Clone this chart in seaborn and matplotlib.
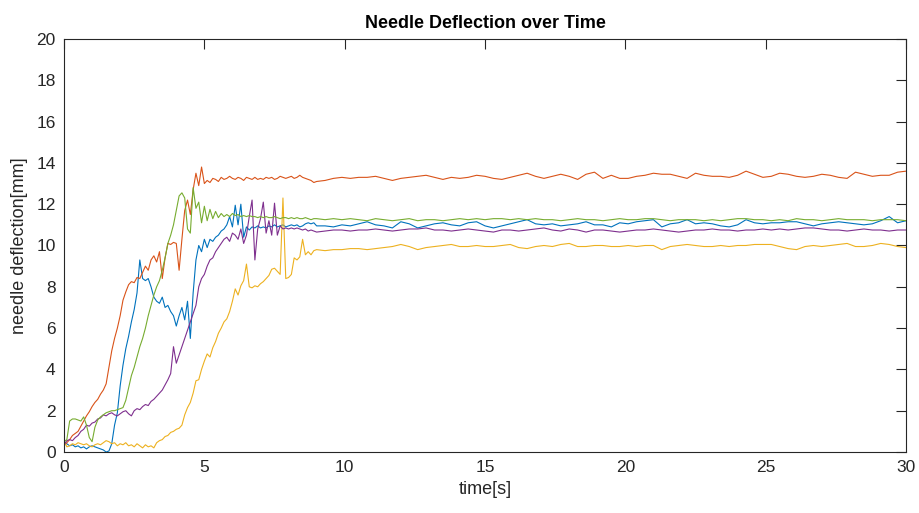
import numpy as np
import pandas as pd
import matplotlib
matplotlib.use("Agg")
import matplotlib.pyplot as plt
import seaborn as sns

# sampling grid: 0.1 s during insertion, 0.3 s once the needle has settled
t_fast = np.round(np.arange(0.0, 9.01, 0.1), 1)
t_slow = np.round(np.arange(9.3, 30.01, 0.3), 1)
time_s = np.concatenate([t_fast, t_slow])

# needle deflection [mm] for the five trials
blue_fast = [0.45, 0.40, 0.30, 0.35, 0.25, 0.30, 0.20, 0.25, 0.15, 0.25,
             0.30, 0.25, 0.20, 0.15, 0.10, 0.00, 0.05, 0.40, 1.30, 1.90,
             3.20, 4.20, 5.00, 5.60, 6.30, 6.90, 7.70, 9.30, 8.40, 8.30,
             8.40, 8.00, 7.50, 7.30, 7.20, 7.50, 7.00, 7.10, 6.80, 6.60,
             6.10, 6.60, 7.00, 6.40, 7.30, 5.50, 7.70, 9.30, 10.00, 9.70,
             10.30, 9.90, 10.30, 10.20, 10.40, 10.50, 10.70, 10.80, 11.00, 11.40,
             10.90, 11.95, 11.00, 12.00, 10.40, 10.90, 10.75, 10.90, 10.85, 10.95,
             10.85, 10.90, 10.85, 10.95, 10.90, 11.00, 10.90, 10.95, 11.00, 10.90,
             10.95, 11.00, 10.95, 11.00, 10.90, 10.95, 11.05, 11.10, 11.05, 11.10,
             10.95]
blue_slow = [10.95, 10.90, 11.00, 10.95, 11.05, 11.15, 11.00, 10.95, 10.85, 11.15,
             11.05, 10.85, 10.95, 11.05, 11.10, 11.00, 10.95, 11.10, 11.15, 10.95,
             10.85, 10.95, 11.05, 11.15, 11.25, 11.05, 11.00, 11.05, 10.95, 11.00,
             11.05, 11.15, 11.00, 11.00, 10.90, 11.10, 11.05, 11.15, 11.20, 11.25,
             10.90, 11.05, 11.10, 11.25, 11.05, 11.10, 11.05, 10.95, 10.90, 11.00,
             11.25, 11.10, 11.05, 11.10, 11.10, 11.15, 11.15, 11.05, 10.95, 11.05,
             11.10, 11.15, 11.10, 11.05, 11.00, 11.05, 11.20, 11.40, 11.10, 11.20]

orange_fast = [0.30, 0.45, 0.60, 0.80, 0.90, 1.00, 1.25, 1.50, 1.75, 1.95,
               2.20, 2.40, 2.55, 2.80, 3.00, 3.30, 4.10, 4.90, 5.50, 6.00,
               6.60, 7.35, 7.75, 8.10, 8.25, 8.20, 8.45, 8.40, 8.70, 9.00,
               8.80, 9.30, 9.50, 9.20, 9.70, 8.40, 9.40, 10.10, 10.05, 10.15,
               10.10, 8.80, 10.30, 11.70, 12.20, 11.50, 12.70, 13.50, 12.90, 13.80,
               13.00, 13.15, 13.05, 13.25, 13.20, 13.10, 13.30, 13.20, 13.25, 13.35,
               13.25, 13.20, 13.30, 13.25, 13.15, 13.30, 13.25, 13.20, 13.30, 13.20,
               13.25, 13.20, 13.30, 13.25, 13.30, 13.20, 13.25, 13.35, 13.30, 13.25,
               13.30, 13.35, 13.25, 13.30, 13.40, 13.30, 13.25, 13.20, 13.15, 13.05,
               13.10]
orange_slow = [13.15, 13.25, 13.30, 13.25, 13.30, 13.30, 13.35, 13.25, 13.15, 13.25,
               13.30, 13.35, 13.40, 13.30, 13.20, 13.30, 13.25, 13.30, 13.40, 13.35,
               13.25, 13.20, 13.30, 13.40, 13.50, 13.35, 13.25, 13.35, 13.45, 13.35,
               13.20, 13.45, 13.55, 13.25, 13.40, 13.25, 13.25, 13.35, 13.40, 13.50,
               13.45, 13.45, 13.35, 13.25, 13.50, 13.40, 13.35, 13.35, 13.30, 13.40,
               13.60, 13.45, 13.30, 13.35, 13.50, 13.45, 13.35, 13.30, 13.35, 13.45,
               13.40, 13.30, 13.25, 13.55, 13.45, 13.35, 13.40, 13.40, 13.55, 13.60]

yellow_fast = [0.55, 0.25, 0.30, 0.40, 0.35, 0.45, 0.40, 0.35, 0.40, 0.30,
               0.25, 0.35, 0.40, 0.35, 0.45, 0.55, 0.50, 0.40, 0.45, 0.30,
               0.40, 0.35, 0.45, 0.30, 0.35, 0.25, 0.40, 0.30, 0.20, 0.35,
               0.25, 0.30, 0.20, 0.45, 0.55, 0.60, 0.75, 0.80, 0.95, 1.00,
               1.10, 1.15, 1.30, 1.80, 2.15, 2.40, 2.85, 3.45, 3.50, 4.00,
               4.40, 4.75, 4.60, 5.05, 5.35, 5.75, 6.00, 6.30, 6.45, 6.80,
               7.30, 7.90, 7.60, 8.05, 8.30, 9.10, 8.00, 7.95, 8.05, 8.00,
               8.15, 8.25, 8.40, 8.55, 8.85, 8.90, 8.75, 8.60, 12.30, 8.40,
               8.45, 8.60, 9.40, 9.30, 9.45, 10.30, 9.55, 9.70, 9.55, 9.75,
               9.80]
yellow_slow = [9.75, 9.80, 9.80, 9.85, 9.85, 9.80, 9.85, 9.90, 9.95, 10.05,
               9.95, 9.80, 9.90, 9.95, 10.00, 10.05, 9.95, 9.95, 10.00, 9.95,
               9.95, 10.00, 10.05, 9.90, 9.85, 9.95, 10.00, 9.95, 10.05, 10.10,
               9.95, 9.95, 10.00, 10.00, 9.95, 9.95, 10.00, 9.95, 10.00, 10.00,
               9.80, 9.95, 10.00, 10.05, 10.00, 9.95, 9.95, 10.00, 9.95, 10.00,
               10.00, 10.05, 10.05, 10.05, 9.95, 9.85, 9.80, 9.95, 10.00, 9.95,
               10.00, 10.05, 10.10, 9.95, 9.95, 10.00, 10.10, 10.05, 9.95, 9.90]

purple_fast = [0.35, 0.55, 0.60, 0.55, 0.70, 0.80, 1.00, 1.10, 1.30, 1.25,
               1.40, 1.45, 1.60, 1.65, 1.80, 1.75, 1.85, 1.90, 1.80, 1.75,
               1.85, 1.95, 2.00, 1.85, 1.75, 2.00, 2.10, 2.05, 2.20, 2.30,
               2.25, 2.45, 2.55, 2.70, 2.85, 3.00, 3.25, 3.50, 3.80, 5.10,
               4.30, 4.70, 5.10, 5.50, 5.90, 6.30, 6.70, 7.10, 8.00, 8.40,
               8.60, 9.00, 9.30, 9.40, 9.70, 9.90, 10.10, 10.30, 10.40, 10.20,
               10.60, 10.50, 10.30, 10.80, 10.10, 10.50, 11.40, 12.20, 9.30, 10.80,
               11.30, 12.10, 10.60, 11.20, 10.50, 12.05, 10.50, 10.95, 10.80, 10.85,
               10.80, 10.85, 10.80, 10.85, 10.80, 10.75, 10.80, 10.70, 10.75, 10.70,
               10.65]
purple_slow = [10.70, 10.75, 10.75, 10.70, 10.75, 10.75, 10.80, 10.75, 10.70, 10.75,
               10.80, 10.80, 10.85, 10.75, 10.75, 10.70, 10.75, 10.80, 10.75, 10.70,
               10.65, 10.75, 10.75, 10.70, 10.75, 10.80, 10.85, 10.75, 10.70, 10.80,
               10.75, 10.65, 10.75, 10.75, 10.70, 10.65, 10.70, 10.75, 10.75, 10.80,
               10.75, 10.70, 10.65, 10.70, 10.75, 10.75, 10.80, 10.75, 10.75, 10.70,
               10.75, 10.75, 10.80, 10.75, 10.80, 10.75, 10.80, 10.85, 10.85, 10.80,
               10.75, 10.75, 10.70, 10.75, 10.80, 10.75, 10.75, 10.70, 10.75, 10.75]

green_fast = [0.50, 0.60, 1.50, 1.60, 1.60, 1.55, 1.50, 1.70, 1.30, 0.70,
              0.50, 1.20, 1.55, 1.70, 1.80, 1.90, 1.95, 2.00, 2.00, 2.05,
              2.10, 2.15, 2.50, 3.10, 3.70, 4.10, 4.60, 5.10, 5.50, 6.00,
              6.60, 7.10, 7.60, 8.00, 8.30, 8.80, 9.40, 10.10, 10.50, 11.00,
              11.70, 12.40, 12.55, 12.30, 10.80, 10.60, 12.80, 11.80, 12.10, 11.10,
              11.90, 11.20, 11.75, 11.30, 11.65, 11.35, 11.55, 11.40, 11.50, 11.40,
              11.55, 11.45, 11.50, 11.40, 11.45, 11.40, 11.45, 11.40, 11.40, 11.35,
              11.40, 11.35, 11.40, 11.35, 11.35, 11.40, 11.35, 11.30, 11.35, 11.35,
              11.30, 11.35, 11.30, 11.35, 11.30, 11.30, 11.35, 11.30, 11.25, 11.30,
              11.30]
green_slow = [11.25, 11.30, 11.25, 11.30, 11.25, 11.20, 11.30, 11.25, 11.20, 11.25,
              11.30, 11.20, 11.25, 11.25, 11.20, 11.25, 11.30, 11.25, 11.30, 11.25,
              11.30, 11.30, 11.25, 11.30, 11.25, 11.30, 11.25, 11.25, 11.20, 11.25,
              11.30, 11.25, 11.25, 11.20, 11.25, 11.30, 11.25, 11.25, 11.30, 11.30,
              11.25, 11.20, 11.25, 11.25, 11.25, 11.20, 11.25, 11.20, 11.25, 11.30,
              11.30, 11.25, 11.25, 11.20, 11.25, 11.20, 11.30, 11.25, 11.25, 11.20,
              11.25, 11.30, 11.25, 11.25, 11.25, 11.20, 11.25, 11.25, 11.25, 11.20]

trials = {
    "trial 1": blue_fast + blue_slow,
    "trial 2": orange_fast + orange_slow,
    "trial 3": yellow_fast + yellow_slow,
    "trial 4": purple_fast + purple_slow,
    "trial 5": green_fast + green_slow,
}
colors = ["#0072BD", "#D95319", "#EDB120", "#7E2F8E", "#77AC30"]

df = pd.concat(
    [pd.DataFrame({"time": time_s, "deflection": vals, "trial": name})
     for name, vals in trials.items()],
    ignore_index=True,
)

sns.set_theme(style="white")
plt.rcParams["font.family"] = ["Liberation Sans", "DejaVu Sans"]

fig = plt.figure(figsize=(9.2, 5.13), dpi=100)
ax = fig.add_axes([0.0696, 0.1189, 0.9152, 0.8051])

sns.lineplot(data=df, x="time", y="deflection", hue="trial",
             palette=colors, estimator=None, linewidth=0.8,
             legend=False, ax=ax)

ax.set_xlim(0, 30)
ax.set_ylim(0, 20)
ax.set_xticks(np.arange(0, 31, 5))
ax.set_yticks(np.arange(0, 21, 2))

axis_color = "#262626"
for side in ["left", "right", "top", "bottom"]:
    ax.spines[side].set_visible(True)
    ax.spines[side].set_color(axis_color)
    ax.spines[side].set_linewidth(0.8)
ax.tick_params(direction="in", length=7, width=0.8, top=True, right=True,
               colors=axis_color, labelsize=12.5, labelcolor=axis_color, pad=6)

ax.set_title("Needle Deflection over Time", fontsize=13, fontweight="bold",
             color="black", pad=8)
ax.set_xlabel("time[s]", fontsize=13, color=axis_color, labelpad=4)
ax.set_ylabel("needle deflection[mm]", fontsize=13, color=axis_color, labelpad=6)

fig.savefig("out.png", dpi=100)
